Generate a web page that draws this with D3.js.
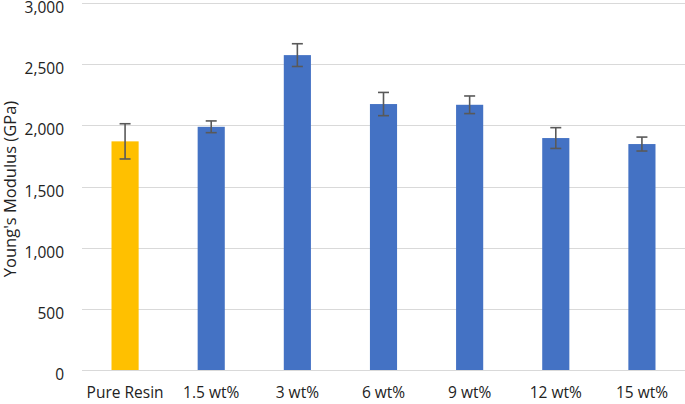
<!DOCTYPE html>
<html>
<head>
<meta charset="utf-8">
<script src="https://cdn.jsdelivr.net/npm/d3@7"></script>
<style>
  body { margin: 0; background: #fff; }
  text { font-family: "Open Sans", "Liberation Sans", sans-serif; fill: #222; }
</style>
</head>
<body>
<svg id="chart" width="685" height="404"></svg>
<script>
// data
var categories = ["Pure Resin", "1.5 wt%", "3 wt%", "6 wt%", "9 wt%", "12 wt%", "15 wt%"]
var modulus = [1869, 1988, 2574, 2174, 2168, 1896, 1847]
var errors = [144, 48, 93, 95, 72, 85, 57]
var yTicks = [0, 500, 1000, 1500, 2000, 2500, 3000]

var margin = { top: 3, right: 0, bottom: 34, left: 82 },
    width = 685 - margin.left - margin.right,
    height = 404 - margin.top - margin.bottom

var svg = d3.select("#chart")
var g = svg.append("g")
    .attr("transform", "translate(" + margin.left + "," + margin.top + ")")

var x = d3.scaleBand()
    .domain(categories)
    .range([0, width])
    .paddingInner(0.685)
    .paddingOuter(0.3425)

var y = d3.scaleLinear()
    .domain([0, 3000])
    .range([height, 0])

// gridlines
g.append("g")
    .selectAll("line")
    .data(yTicks)
    .enter().append("line")
    .attr("x1", 0)
    .attr("x2", width)
    .attr("y1", function(d) { return Math.round(y(d)) + 0.5 })
    .attr("y2", function(d) { return Math.round(y(d)) + 0.5 })
    .style("stroke", "#d9d9d9")
    .style("stroke-width", 1.2)

// y axis labels
var yAxis = g.append("g")
    .call(d3.axisLeft(y).tickValues(yTicks).tickSize(0).tickPadding(18).tickFormat(d3.format(",")))
yAxis.select(".domain").remove()
yAxis.selectAll("text")
    .attr("dy", "0.62em")
    .style("font-size", "15.5px")
    .style("fill", "#222")

// x axis labels
var xAxis = g.append("g")
    .attr("transform", "translate(0," + height + ")")
    .call(d3.axisBottom(x).tickSize(0).tickPadding(17))
xAxis.select(".domain").remove()
xAxis.selectAll("text").style("font-size", "15.5px").style("fill", "#222")

// bars
var data = categories.map(function(c, i) { return { cat: c, val: modulus[i], err: errors[i] } })

g.append("g").selectAll("rect")
    .data(data)
    .enter().append("rect")
    .attr("x", function(d) { return x(d.cat) })
    .attr("y", function(d) { return y(d.val) })
    .attr("width", x.bandwidth())
    .attr("height", function(d) { return y(0) - y(d.val) })
    .style("fill", function(d, i) { return i === 0 ? "#FFC000" : "#4472C4" })

// error bars
var eb = g.append("g").selectAll("g")
    .data(data)
    .enter().append("g")
    .style("stroke", "#595959")
    .style("stroke-width", 1.6)

eb.append("line")
    .attr("x1", function(d) { return x(d.cat) + x.bandwidth() / 2 })
    .attr("x2", function(d) { return x(d.cat) + x.bandwidth() / 2 })
    .attr("y1", function(d) { return y(d.val + d.err) })
    .attr("y2", function(d) { return y(d.val - d.err) })

eb.selectAll(".cap")
    .data(function(d) { return [[d.cat, d.val + d.err], [d.cat, d.val - d.err]] })
    .enter().append("line")
    .attr("class", "cap")
    .attr("x1", function(d) { return x(d[0]) + x.bandwidth() / 2 - 5.5 })
    .attr("x2", function(d) { return x(d[0]) + x.bandwidth() / 2 + 5.5 })
    .attr("y1", function(d) { return y(d[1]) })
    .attr("y2", function(d) { return y(d[1]) })

// y title
svg.append("text")
    .attr("transform", "translate(10.5,189) rotate(-90)")
    .attr("text-anchor", "middle")
    .attr("dy", "0.35em")
    .style("font-size", "16.5px")
    .text("Young's Modulus (GPa)")
</script>
</body>
</html>
